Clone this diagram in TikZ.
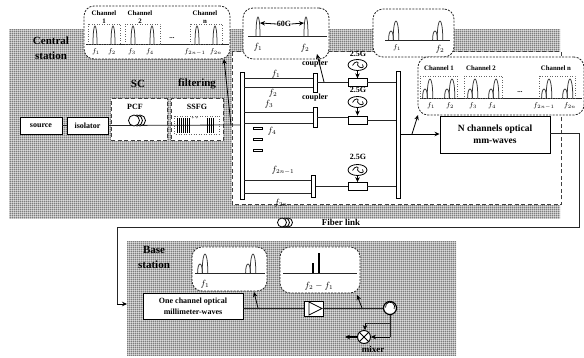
\documentclass[tikz,border=0pt]{standalone}
\usepackage{fontspec}
\setmainfont{Liberation Serif}
\usetikzlibrary{arrows.meta,patterns,calc}
\pgfdeclarepatternformonly{fgrid}{\pgfpointorigin}{\pgfpoint{2.2pt}{2.2pt}}{\pgfpoint{2.2pt}{2.2pt}}{%
  \pgfsetlinewidth{0.75pt}%
  \pgfpathmoveto{\pgfpoint{0pt}{1.1pt}}\pgfpathlineto{\pgfpoint{2.2pt}{1.1pt}}%
  \pgfpathmoveto{\pgfpoint{1.1pt}{0pt}}\pgfpathlineto{\pgfpoint{1.1pt}{2.2pt}}%
  \pgfusepath{stroke}}
\newcommand{\pk}[4]{\draw[peak] (#1-#4,#2) .. controls (#1-#4,#2-#3*1.33) and (#1+#4,#2-#3*1.33) .. (#1+#4,#2);}
\newcommand{\dpk}[2]{\pk{#1-5}{#2}{9}{2.4}\pk{#1}{#2}{19}{2.8}}
\tikzset{
  shade/.style={pattern=fgrid,pattern color=black!78},
  line/.style={line width=0.8pt,black!85},
  arr/.style={line width=0.8pt,black,-{Stealth[length=5pt,width=4.5pt]}},
  peak/.style={line width=0.75pt,black!80},
  bx/.style={draw=black,line width=0.9pt,fill=white,inner sep=0pt,align=center,font=\bfseries\fontsize{8}{9.5}\selectfont},
  bar/.style={draw=black,line width=0.7pt,fill=white,inner sep=0pt},
  callout/.style={draw=black!85,dash pattern=on 2pt off 1.3pt,line width=0.8pt,fill=white,rounded corners=10pt,inner sep=0pt},
  dashbox/.style={draw=black!75,dash pattern=on 4pt off 2.5pt,line width=1pt,fill=white,inner sep=0pt},
  dotbox/.style={draw=black!60,dotted,line width=0.5pt},
  lab/.style={inner sep=0pt,font=\bfseries\fontsize{6.8}{7.8}\selectfont,align=center},
  big/.style={inner sep=0pt,font=\bfseries\fontsize{11}{15}\selectfont,align=center},
  mid/.style={inner sep=0pt,font=\bfseries\fontsize{9.5}{12}\selectfont},
  fl/.style={inner sep=0pt,font=\fontsize{9}{10}\selectfont},
  fs/.style={inner sep=0pt,font=\fontsize{7.5}{9}\selectfont},
  osc/.style={draw=black,line width=0.8pt,fill=white,ellipse,minimum width=19pt,minimum height=11pt,inner sep=0pt},
}
\usetikzlibrary{shapes.geometric}
\begin{document}
\begin{tikzpicture}[x=1pt,y=-1pt]
\useasboundingbox (0,0) rectangle (584,358);
% shaded regions
\fill[shade] (9,30) rectangle (560,219);
\fill[shade] (127,242) rectangle (456,355);
% white dashed region
\draw[dashbox] (232,52) rectangle (561,205);
% fibre loop
\coordinate (fa) at (579,133);
\coordinate (fb) at (579,227);
\coordinate (fc) at (117,227);
\coordinate (fd) at (117,304);
\coordinate (bsin) at (127,304);
% boxes of the transmitter
\node[bx,minimum width=42pt,minimum height=17pt] (source) at (41,125.5) {source};
\node[bx,minimum width=41pt,minimum height=17pt] (iso) at (87.5,125.5) {isolator};
\node[dashbox,minimum width=56pt,minimum height=42pt] (pcf) at (139,120) {};
\node[dashbox,minimum width=52pt,minimum height=42pt] (ssfg) at (197,120) {};
\node[lab,font=\bfseries\fontsize{8}{9}\selectfont] (pcft) at (135,107) {PCF};
\node[lab,font=\bfseries\fontsize{8}{9}\selectfont] (ssfgt) at (197,107) {SSFG};
\node[big] (cs) at (51,48) {Central\\station};
\node[big] (sc) at (138,84) {SC};
\node[big] (filt) at (197,84) {filtering};
% vertical bars
\node[bar,minimum width=4pt,minimum height=127pt] (lbar) at (242,135.5) {};
\node[bar,minimum width=4pt,minimum height=127pt] (rbar) at (398,134.5) {};
\coordinate (inl) at (240,125);
\draw[line] (source) -- (iso);
\draw[line] (iso.east) -- (inl);
% coil
\foreach \cx/\nm in {140/c3,137/c2,134/c1}{\node[draw=black,line width=0.8pt,fill=white,circle,minimum size=11pt,inner sep=0pt] (\nm) at (\cx,120.5) {};}
% grating
\draw[dotbox] (174,116) rectangle (219,134);
\foreach \gx in {177,179,181,183,185,187,189,207,209,211,213}{\draw[line width=0.9pt,black] (\gx,118) -- (\gx,133);}
\node[fs] (gd) at (195,118) {\fontsize{5}{5}\selectfont + +};
% callout 1
\node[callout,minimum width=146pt,minimum height=53pt] (co1) at (157,32.5) {};
\coordinate (co1a) at (86,44.5);\coordinate (co1b) at (229,44.5);
\draw[line] (co1a) -- (co1b);
\draw[dotbox] (88,24) rectangle (120,44) (125,24) rectangle (160,44) (190,24) rectangle (222,44);
\foreach \p in {95,113,133,152,197,215}{\pk{\p}{44}{18}{2}}
\node[lab] (t1) at (104,17) {Channel\\1};
\node[lab] (t2) at (140,17) {Channel\\2};
\node[lab] (t3) at (205,17) {Channel\\n};
\node[lab] (dots1) at (172,38) {...};
\node[fs] at (96,52) {$f_1$};\node[fs] at (112,52) {$f_2$};\node[fs] at (132,52) {$f_3$};\node[fs] at (150,52) {$f_4$};\node[fs] at (195,52) {$f_{2n-1}$};\node[fs] at (216,52) {$f_{2n}$};
% callout 2
\node[callout,minimum width=86pt,minimum height=51pt] (co2) at (286,33.5) {};
\coordinate (co2a) at (248,36);\coordinate (co2b) at (327,36);
\draw[line] (co2a) -- (co2b);
\pk{258}{36}{19}{2}\pk{306}{36}{19}{2}
\node[mid,font=\bfseries\fontsize{8}{9}\selectfont] (sixty) at (284,24) {60G};
\coordinate (pk1r) at (260,23);\coordinate (pk2l) at (304,23);
\draw[arr] (sixty.west) -- (pk1r);
\draw[arr] (sixty.east) -- (pk2l);
\node[fl] at (258,47) {$f_1$};\node[fl] at (305,48) {$f_2$};
% callout 3
\node[callout,minimum width=81pt,minimum height=48pt] (co3) at (413.5,33) {};
\coordinate (co3a) at (385,40);\coordinate (co3b) at (450,40);
\draw[line] (co3a) -- (co3b);
\dpk{396}{40}\dpk{440}{40}
\node[fs] at (397,48) {$f_1$};\node[fl] at (440,49) {$f_2$};
% callout 4
\node[callout,minimum width=166pt,minimum height=58pt] (co4) at (501,86) {};
\coordinate (co4a) at (420,98);\coordinate (co4b) at (582,98);
\draw[line] (co4a) -- (co4b);
\draw[dotbox] (420,76) rectangle (457,98) (464,76) rectangle (502,98) (539,76) rectangle (575,98);
\foreach \p in {430,452,475,496,549,570}{\dpk{\p}{98}}
\node[lab] at (439,68) {Channel 1};\node[lab] at (481,68) {Channel 2};\node[lab] at (556,68) {Channel n};
\node[lab] at (520,92) {...};
\node[fs] at (431,106) {$f_1$};\node[fs] at (450,106) {$f_2$};\node[fs] at (473,106) {$f_3$};\node[fs] at (492,106) {$f_4$};\node[fs] at (544,106) {$f_{2n-1}$};\node[fs] at (570,106) {$f_{2n}$};
% N channels
\node[bx,minimum width=110pt,minimum height=37pt,font=\bfseries\fontsize{9.5}{12.5}\selectfont] (nch) at (495,134.5) {N channels optical\\mm-waves};
% couplers and rails
\node[bar,minimum width=4pt,minimum height=19pt] (cp1) at (315,82.5) {};
\node[bar,minimum width=4pt,minimum height=20pt] (cp2) at (315,117) {};
\node[bar,minimum width=4pt,minimum height=22pt] (cp3) at (313.5,186) {};
\foreach \n/\y in {1/78,2/87}{\coordinate (ra\n) at (244,\y);\draw[line] (ra\n) -- (cp1.west |- ra\n);}
\foreach \n/\y in {3/112,4/123}{\coordinate (ra\n) at (244,\y);\draw[line] (ra\n) -- (cp2.west |- ra\n);}
\foreach \n/\y in {5/180,6/193}{\coordinate (ra\n) at (244,\y);\draw[line] (ra\n) -- (cp3.west |- ra\n);}
% modulators and oscillators
\node[bar,line width=0.8pt,minimum width=19pt,minimum height=7.5pt] (m1) at (357.5,82.5) {};
\node[bar,line width=0.8pt,minimum width=19pt,minimum height=8pt] (m2) at (357.5,120) {};
\node[bar,line width=0.8pt,minimum width=19pt,minimum height=8pt] (m3) at (357.5,186.5) {};
\draw[line] (cp1) -- (m1);\draw[line] (m1) -- (rbar.west |- m1);
\draw[line] (cp2) -- (cp2 -| m2.west);\draw[line] (m2) -- (rbar.west |- m2);
\draw[line] (cp3) -- (cp3 -| m3.west);\draw[line] (m3) -- (rbar.west |- m3);
\foreach \n/\y/\ty in {1/65/54,2/102/90,3/170/157}{
  \node[osc] (o\n) at (357.5,\y) {};
  \draw[line width=0.7pt] ($(o\n)+(-5,0.5)$) .. controls +(2.5,-5) and +(2.5,-4) .. ($(o\n)+(0,0)$) .. controls +(2,4) and +(3,4) .. ($(o\n)+(5,-0.5)$);
  \node[lab,font=\bfseries\fontsize{8}{9}\selectfont] (g\n) at (358,\ty) {2.5G};
  \draw[arr] (o\n) -- (m\n);
}
\node[lab,font=\bfseries\fontsize{8}{9}\selectfont] (cl1) at (315,64) {coupler};
\node[lab,font=\bfseries\fontsize{8}{9}\selectfont] (cl2) at (315,98) {coupler};
% rail labels
\node[fl] at (276,74) {$f_1$};\node[fl] at (273,93) {$f_2$};\node[fl] at (269,104) {$f_3$};\node[fl] at (272,131) {$f_4$};
\node[fl] at (283,170) {$f_{2n-1}$};\node[fl] at (281,203) {$f_{2n}$};
\foreach \n/\y in {1,2,3}{}
\node[draw=black,line width=0.5pt,minimum width=9pt,minimum height=2.5pt,inner sep=0pt] (d1) at (257.5,128.5) {};
\node[draw=black,line width=0.5pt,minimum width=9pt,minimum height=2.5pt,inner sep=0pt] (d2) at (257.5,139.5) {};
\node[draw=black,line width=0.5pt,minimum width=9pt,minimum height=2.5pt,inner sep=0pt] (d3) at (257.5,150.5) {};
% arrows to callouts
\coordinate (t1f) at (231,125);\coordinate (t1t) at (224,59);
\draw[arr] (t1f) -- (t1t);
\coordinate (t2f) at (324,82);\coordinate (t2t) at (317,54);
\draw[arr] (t2f) -- (t2t);
\coordinate (rout) at (400,134);
\draw[arr] (rout) -- (nch.west |- rout);
\coordinate (t3f) at (412,134);\coordinate (t3t) at (418,115);
\draw[arr] (t3f) -- (t3t);
% fibre
\draw[line,line width=0.9pt] (nch.east |- fa) -- (fa) -- (fb) -- (fc) -- (fd);
\draw[arr] (fd) -- (bsin);
\foreach \cx/\nm in {288,285,282}{\node[draw=black,line width=0.8pt,fill=white,circle,minimum size=9pt,inner sep=0pt] at (\cx,222.5) {};}
\node[lab,font=\bfseries\fontsize{9}{10}\selectfont] (fib) at (341,222) {Fiber link};
% base station
\node[big,font=\bfseries\fontsize{11}{15}\selectfont] (bs) at (154,257) {Base\\station};
\node[callout,minimum width=75pt,minimum height=44pt] (co5) at (229.5,269) {};
\coordinate (co5a) at (195,273);\coordinate (co5b) at (265,273);
\draw[line] (co5a) -- (co5b);
\dpk{205}{273}\dpk{253}{273}
\node[fl] at (205,284) {$f_1$};
\node[callout,minimum width=80pt,minimum height=46pt] (co6) at (320,270) {};
\coordinate (co6a) at (283,273);\coordinate (co6b) at (357,273);
\draw[line] (co6a) -- (co6b);
\coordinate (s1a) at (313,273);\coordinate (s1b) at (313,263);\coordinate (s2a) at (319,273);\coordinate (s2b) at (319,253);
\draw[line width=1.1pt,black] (s1a) -- (s1b) (s2a) -- (s2b);
\node[fl] at (319,286) {$f_2-f_1$};
\node[bx,minimum width=100pt,minimum height=26pt,font=\bfseries\fontsize{8}{11}\selectfont] (one) at (193,306) {One channel optical\\millimeter-waves};
\node[draw=black,line width=0.9pt,fill=white,inner sep=0pt,minimum width=19pt,minimum height=15pt] (amp) at (313.5,308.5) {};
\coordinate (ampa) at (309,302);\coordinate (ampb) at (309,315);\coordinate (ampc) at (322,308.5);
\draw[line width=0.8pt] (ampa) -- (ampb) -- (ampc) -- cycle;
\node[draw=black,line width=1.2pt,fill=white,circle,minimum size=13pt,inner sep=0pt] (circ) at (390,308) {};
\draw[line width=0.7pt] (circ.center) ++(-4.5,-0.5) arc[start angle=190,end angle=-30,radius=4.6pt];
\draw[line] (one.east |- circ) -- (amp.west |- circ);
\draw[line] (amp.east |- circ) -- (circ);
\node[draw=black,line width=0.9pt,fill=white,circle,minimum size=13pt,inner sep=0pt] (mx) at (364,337) {};
\draw[line width=0.8pt] (mx.north east) -- (mx.south west) (mx.north west) -- (mx.south east);
\coordinate (ca) at (390,337);\coordinate (cb) at (390,323);\coordinate (cc) at (365,323);
\draw[line,line width=0.9pt] (circ.south) -- (ca);
\draw[arr] (ca) -- (mx.east);
\draw[line,line width=0.9pt] (cb) -- (cc);
\draw[arr] (cc) -- (mx.north -| cc);
\coordinate (mo) at (345,337);
\draw[arr,line width=1.2pt] (mx.west) -- (mo);
\node[lab,font=\bfseries\fontsize{9}{10}\selectfont] (mxt) at (373,349) {mixer};
\coordinate (a5f) at (258,308);\coordinate (a5t) at (254,292);
\coordinate (a6f) at (362,308);\coordinate (a6t) at (357,295);
\draw[arr] (a5f) -- (a5t);
\draw[arr] (a6f) -- (a6t);
\end{tikzpicture}
\end{document}
